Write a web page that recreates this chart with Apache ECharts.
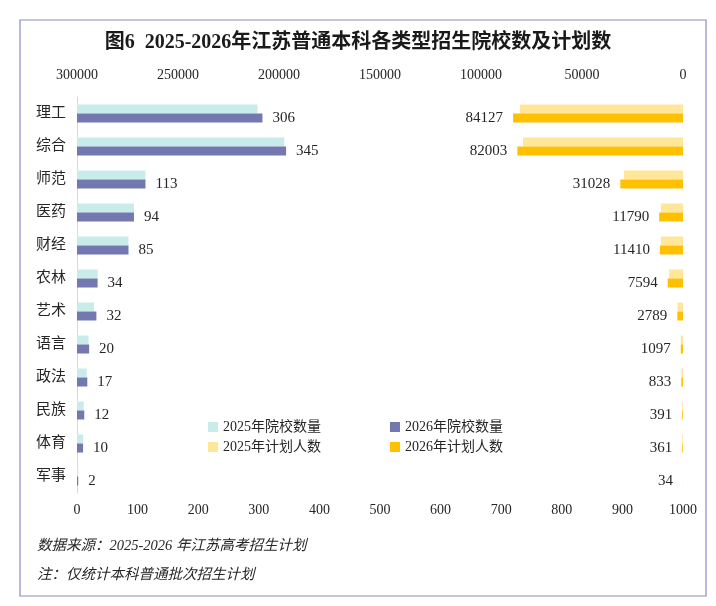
<!DOCTYPE html>
<html>
<head>
<meta charset="utf-8">
<script src="https://cdn.jsdelivr.net/npm/echarts@6/dist/echarts.min.js"></script>
<style>
  html, body { margin: 0; padding: 0; background: #fff; }
  #main { width: 716px; height: 606px; }
</style>
</head>
<body>
<div id="main"></div>
<script>
const categories = ['理工', '综合', '师范', '医药', '财经', '农林', '艺术', '语言', '政法', '民族', '体育', '军事'];
const schools2025 = [298, 342, 113, 94, 85, 34, 28, 19, 16, 11, 10, 2];
const schools2026 = [306, 345, 113, 94, 85, 34, 32, 20, 17, 12, 10, 2];
const plans2025 = [80700, 79200, 29200, 10900, 10900, 6900, 2700, 1050, 800, 400, 350, 30];
const plans2026 = [84127, 82003, 31028, 11790, 11410, 7594, 2789, 1097, 833, 391, 361, 34];
const seriesNames = ['2025年院校数量', '2026年院校数量', '2025年计划人数', '2026年计划人数'];
const titleText = '图6  2025-2026年江苏普通本科各类型招生院校数及计划数';
const noteSource = '数据来源：2025-2026 年江苏高考招生计划';
const noteScope = '注：仅统计本科普通批次招生计划';

const FONT = '"Liberation Serif", "Noto Sans CJK SC", serif';
const colors = ['#C7ECEA', '#7378B1', '#FFE699', '#FFC000'];

const chart = echarts.init(document.getElementById('main'));
const labelStyle = { color: '#262626', fontSize: 15, fontFamily: FONT };
const plain = v => String(v);

chart.setOption({
  backgroundColor: '#fff',
  animation: false,
  title: {
    text: titleText,
    left: 'center',
    top: 28,
    textStyle: { fontSize: 20, fontWeight: 'bold', color: '#1a1a1a', fontFamily: FONT }
  },
  graphic: [
    { type: 'rect', shape: { x: 20, y: 20, width: 686, height: 576 },
      style: { fill: 'none', stroke: '#8A8CC0', lineWidth: 1.2 }, silent: true },
    { type: 'text', left: 37, top: 539,
      style: { text: noteSource, fontSize: 14.5, fontStyle: 'italic', fontFamily: FONT, fill: '#262626' } },
    { type: 'text', left: 37, top: 568,
      style: { text: noteScope, fontSize: 14.5, fontStyle: 'italic', fontFamily: FONT, fill: '#262626' } }
  ],
  legend: [
    { data: [seriesNames[0], seriesNames[2]], orient: 'vertical', left: 203, top: 415,
      itemWidth: 10, itemHeight: 10, itemGap: 6, icon: 'rect',
      textStyle: { fontSize: 14, fontFamily: FONT, color: '#262626' } },
    { data: [seriesNames[1], seriesNames[3]], orient: 'vertical', left: 385, top: 415,
      itemWidth: 10, itemHeight: 10, itemGap: 6, icon: 'rect',
      textStyle: { fontSize: 14, fontFamily: FONT, color: '#262626' } }
  ],
  grid: { left: 77, right: 33, top: 97, bottom: 113, containLabel: false },
  xAxis: [
    { type: 'value', position: 'bottom', min: 0, max: 1000, interval: 100,
      axisLine: { show: false }, axisTick: { show: false }, splitLine: { show: false },
      axisLabel: { fontSize: 14, fontFamily: FONT, color: '#262626', margin: 10, formatter: plain } },
    { type: 'value', position: 'top', inverse: true, min: 0, max: 300000, interval: 50000,
      axisLine: { show: false }, axisTick: { show: false }, splitLine: { show: false },
      axisLabel: { fontSize: 14, fontFamily: FONT, color: '#262626', margin: 15, formatter: plain } }
  ],
  yAxis: [
    { type: 'category', data: categories, inverse: true,
      axisLine: { show: true, lineStyle: { color: '#D9D9D9' } }, axisTick: { show: false },
      axisLabel: { fontSize: 15, fontFamily: FONT, color: '#262626', margin: 11 } },
    { type: 'category', data: categories, inverse: true, show: false }
  ],
  series: [
    { name: seriesNames[0], type: 'bar', xAxisIndex: 0, yAxisIndex: 0, data: schools2025,
      barWidth: 9, barGap: '0%', itemStyle: { color: colors[0] } },
    { name: seriesNames[1], type: 'bar', xAxisIndex: 0, yAxisIndex: 0, data: schools2026,
      barWidth: 9, barGap: '0%', itemStyle: { color: colors[1] },
      label: Object.assign({ show: true, position: 'right', distance: 10 }, labelStyle) },
    { name: seriesNames[2], type: 'bar', xAxisIndex: 1, yAxisIndex: 1, data: plans2025,
      barWidth: 9, barGap: '0%', itemStyle: { color: colors[2] } },
    { name: seriesNames[3], type: 'bar', xAxisIndex: 1, yAxisIndex: 1, data: plans2026,
      barWidth: 9, barGap: '0%', itemStyle: { color: colors[3] },
      label: Object.assign({ show: true, position: 'left', distance: 10 }, labelStyle) }
  ]
});
</script>
</body>
</html>
